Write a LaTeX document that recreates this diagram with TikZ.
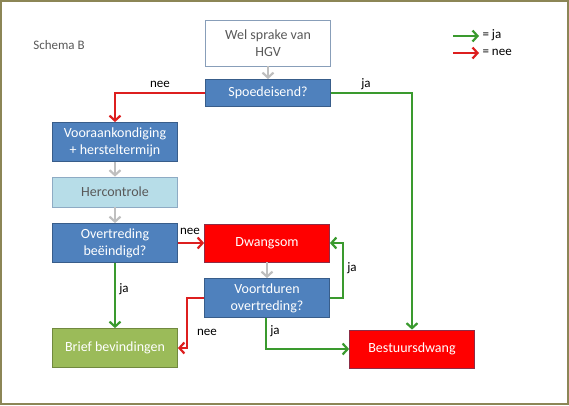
\documentclass[tikz,border=0pt]{standalone}
\usepackage{fontspec}
\setmainfont{Carlito}
\usetikzlibrary{arrows.meta, positioning}
\definecolor{SchemaBlue}{HTML}{4F81BD}
\definecolor{SchemaBlueLine}{HTML}{385D8A}
\definecolor{SchemaLight}{HTML}{B7DDE8}
\definecolor{SchemaLightLine}{HTML}{8EABC4}
\definecolor{SchemaRed}{HTML}{FF0000}
\definecolor{SchemaRedLine}{HTML}{8E2C45}
\definecolor{SchemaGreen}{HTML}{9BBB59}
\definecolor{SchemaGreenLine}{HTML}{71893F}
\definecolor{SchemaGrey}{HTML}{595959}
\definecolor{ArrowJa}{HTML}{3A9A2E}
\definecolor{ArrowNee}{HTML}{DD1F1F}
\definecolor{ArrowGrey}{HTML}{BFBFBF}
\definecolor{FrameOlive}{HTML}{8C8656}
\tikzset{
    % Box styles
    startbox/.style={
        rectangle,
        draw=SchemaBlueLine!60,
        fill=white,
        line width=0.8pt,
        minimum width=125pt,
        minimum height=46pt,
        align=center,
        text=SchemaGrey,
        font=\fontsize{14}{17}\selectfont
    },
    vraag/.style={
        rectangle,
        draw=SchemaBlueLine,
        fill=SchemaBlue,
        line width=0.8pt,
        minimum width=125pt,
        minimum height=39pt,
        align=center,
        text=white,
        font=\fontsize{14}{17}\selectfont
    },
    controle/.style={
        rectangle,
        draw=SchemaLightLine,
        fill=SchemaLight,
        line width=0.8pt,
        minimum width=125pt,
        minimum height=30pt,
        align=center,
        text=SchemaGrey,
        font=\fontsize{14}{17}\selectfont
    },
    sanctie/.style={
        rectangle,
        draw=SchemaRedLine,
        fill=SchemaRed,
        line width=0.8pt,
        minimum width=125pt,
        minimum height=38pt,
        align=center,
        text=white,
        font=\fontsize{14}{17}\selectfont
    },
    einde/.style={
        rectangle,
        draw=SchemaGreenLine,
        fill=SchemaGreen,
        line width=0.8pt,
        minimum width=125pt,
        minimum height=39pt,
        align=center,
        text=white,
        font=\fontsize{14}{17}\selectfont
    },
    label/.style={
        font=\fontsize{13}{15}\selectfont,
        text=black
    },
    % Arrow styles
    grijsarrow/.style={
        -{Straight Barb[length=5pt,width=11pt]},
        line width=2.2pt,
        draw=ArrowGrey
    },
    japijl/.style={
        -{Straight Barb[length=5pt,width=11pt]},
        line width=2.2pt,
        draw=ArrowJa
    },
    neepijl/.style={
        -{Straight Barb[length=5pt,width=11pt]},
        line width=2.2pt,
        draw=ArrowNee
    }
}
\begin{document}
\begin{tikzpicture}[x=1pt, y=-1pt]
    \useasboundingbox (0,0) rectangle (569,405);
    \draw[FrameOlive, line width=2pt] (1,1) rectangle (568,404);

    \node[text=SchemaGrey, font=\fontsize{13}{15}\selectfont] (titel) at (59,45) {Schema B};

    % legend
    \coordinate (jaA) at (453,36);
    \coordinate (jaB) at (479,36);
    \coordinate (neeA) at (453,53);
    \coordinate (neeB) at (479,53);
    \draw[japijl] (jaA) -- (jaB);
    \draw[neepijl] (neeA) -- (neeB);
    \node[label, anchor=west] (legja) at (479,35) {= ja};
    \node[label, anchor=west] (legnee) at (479,52) {= nee};

    % boxes
    \node[startbox] (hgv) at (268,43) {Wel sprake van\\HGV};
    \node[vraag, minimum height=27pt] (spoed) at (268,93) {Spoedeisend?};
    \node[vraag] (voor) at (115,142) {Vooraankondiging\\+ hersteltermijn};
    \node[controle] (herc) at (115,192) {Hercontrole};
    \node[vraag] (overtr) at (115,243) {Overtreding\\beëindigd?};
    \node[sanctie] (dwang) at (267,243) {Dwangsom};
    \node[vraag] (voortd) at (267,298) {Voortduren\\overtreding?};
    \node[einde] (brief) at (115,348) {Brief bevindingen};
    \node[sanctie] (bestuur) at (412,349) {Bestuursdwang};

    % connectors
    \draw[grijsarrow] (hgv.south) -- (spoed.north);
    \draw[grijsarrow] (voor.south) -- (herc.north);
    \draw[grijsarrow] (herc.south) -- (overtr.north);
    \draw[grijsarrow] (dwang.south) -- (voortd.north);

    \draw[neepijl] (spoed.west) -| (voor.north);
    \node[label] (l1) at (160,84) {nee};
    \draw[japijl] (spoed.east) -| (bestuur.north);
    \node[label] (l2) at (366,84) {ja};

    \draw[neepijl] (overtr.east) -- (dwang.west);
    \node[label] (l3) at (190,231) {nee};
    \draw[japijl] (overtr.south) -- (brief.north);
    \node[label] (l4) at (124,289) {ja};

    \draw[japijl] (voortd.east) -- ++(13,0) |- (dwang.east);
    \node[label] (l5) at (352,268) {ja};
    \draw[neepijl] (voortd.west) -- ++(-17,0) |- (brief.east);
    \node[label] (l6) at (207,332) {nee};
    \draw[japijl] (voortd.south -| 266,0) |- (bestuur.west);
    \node[label] (l7) at (275,331) {ja};
\end{tikzpicture}
\end{document}
